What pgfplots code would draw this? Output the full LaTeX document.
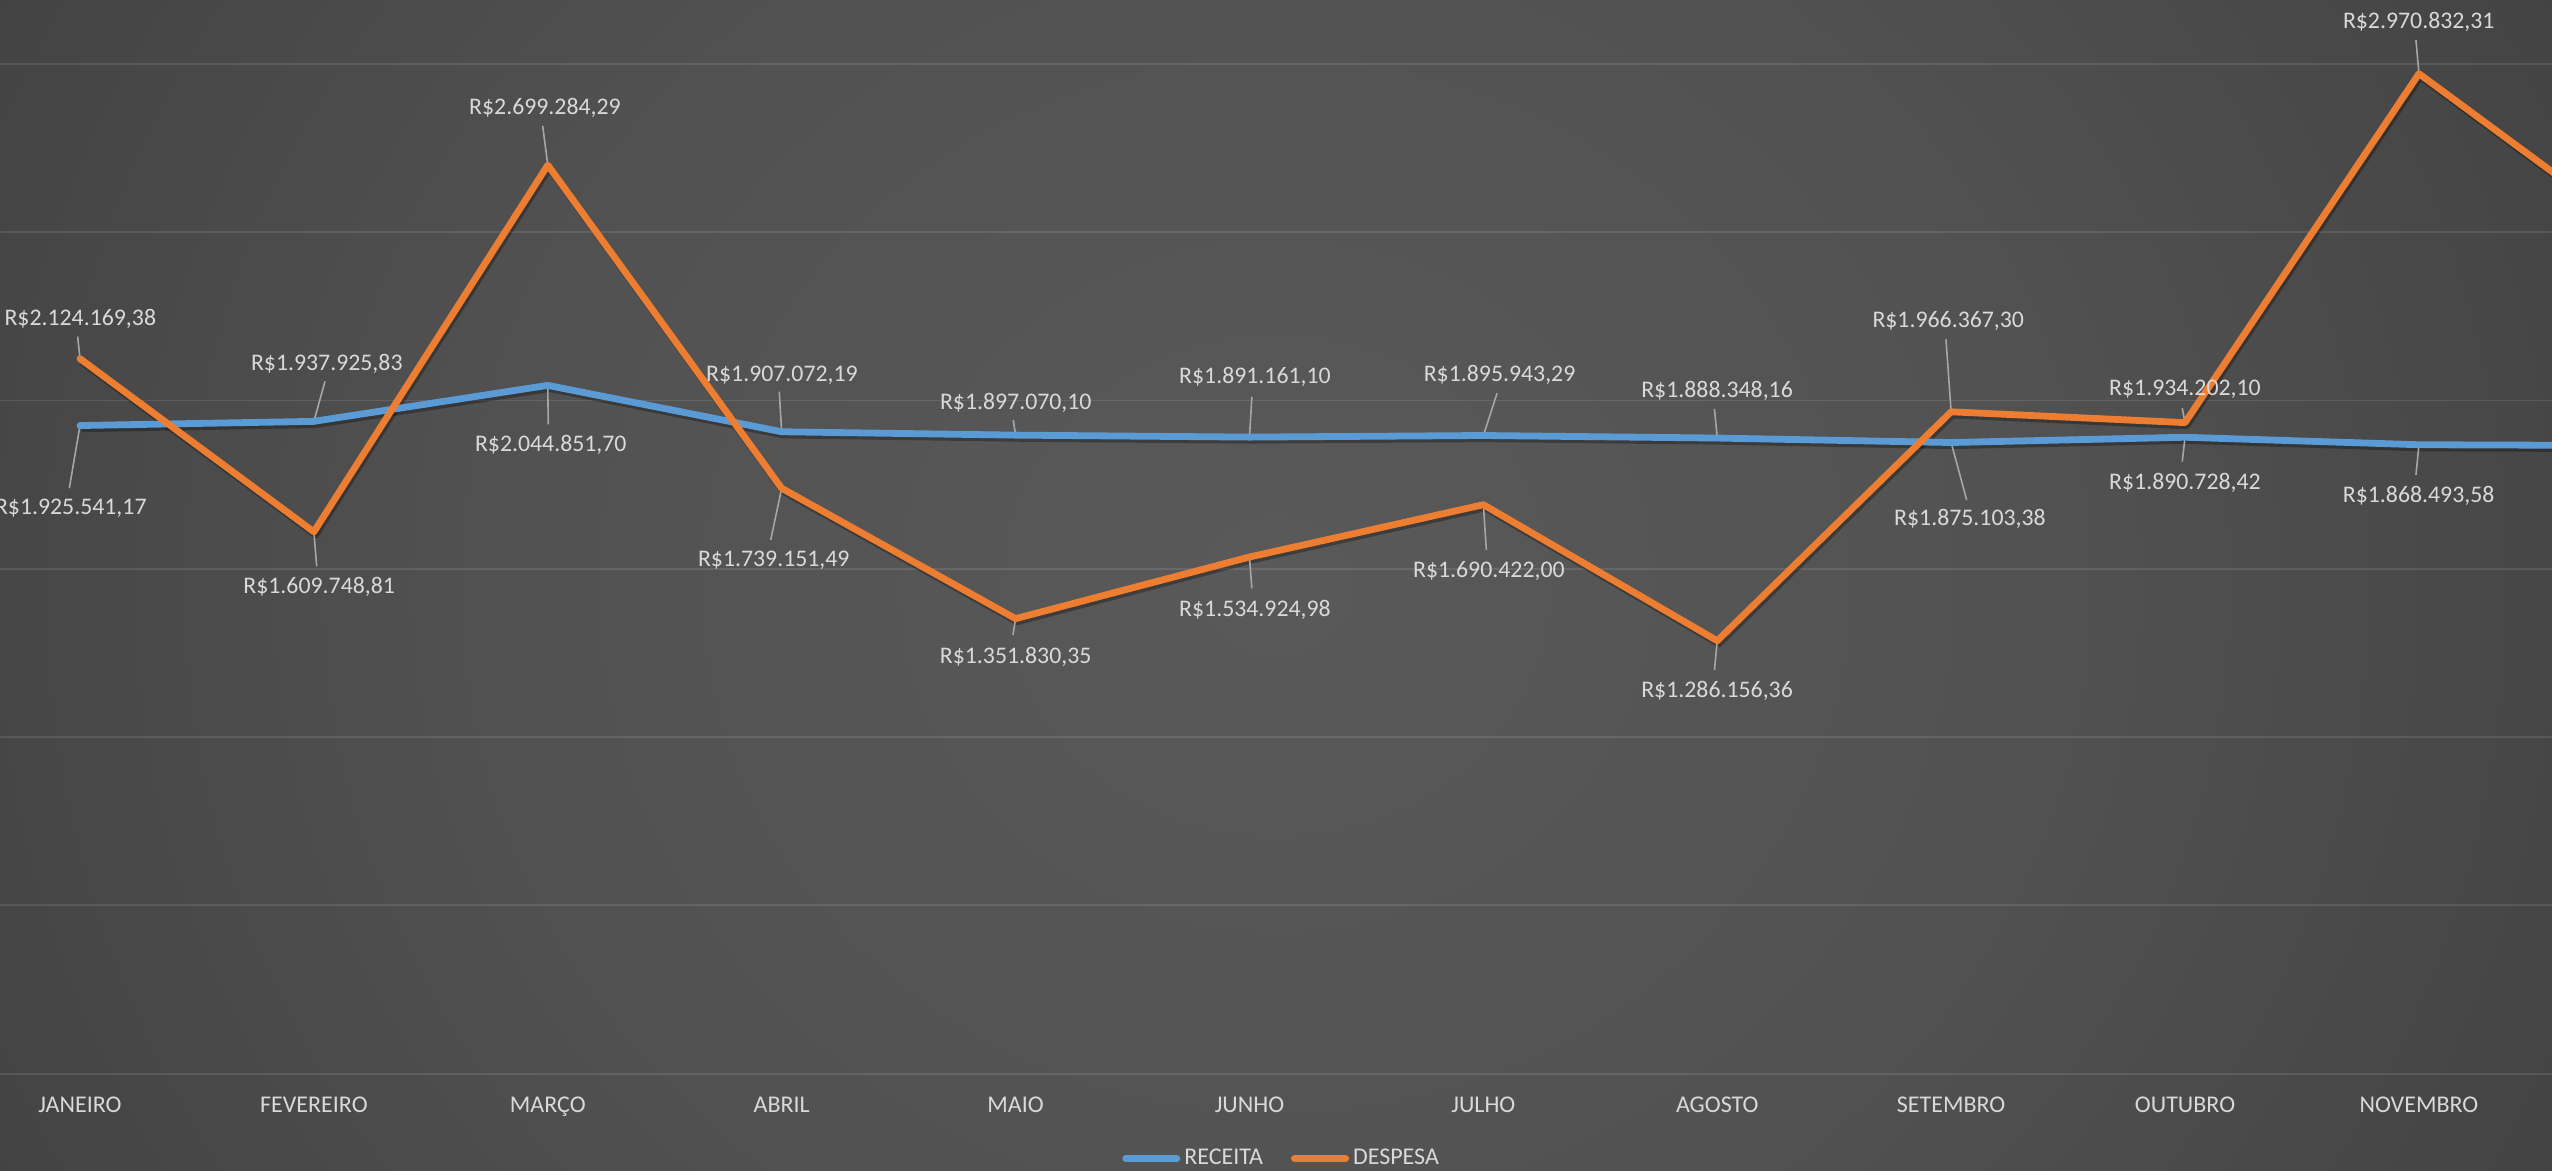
\documentclass[border=0pt]{standalone}
\usepackage{fontspec}
\setmainfont{Carlito}
\newfontfamily\lblfont{Carlito}
\usepackage{pgfplots}
\usepackage{pgfplotstable}
\pgfplotsset{compat=1.18}

\definecolor{receita}{RGB}{91,155,213}
\definecolor{despesa}{RGB}{237,125,49}
\definecolor{txt}{RGB}{217,217,217}
\definecolor{leader}{RGB}{166,166,166}

\pgfdeclareradialshading{bgshade}{\pgfpoint{0bp}{0bp}}{rgb(0bp)=(0.35,0.35,0.35); rgb(15bp)=(0.32,0.32,0.32); rgb(30bp)=(0.255,0.255,0.255); rgb(42bp)=(0.2,0.2,0.2); rgb(52bp)=(0.17,0.17,0.17); rgb(62bp)=(0.15,0.15,0.15); rgb(71bp)=(0.13,0.13,0.13)}

% x = month index, u/v = leader line, dx/dy = label offset (pt)
\pgfplotstableread{
x  y           u       v        dx     dy      lbl
0  1925541.17  -0.0457 -186300  -4.6   -41.35  1.925.541,17
1  1937925.83  0.0475  118800   6.45   28.9    1.937.925,83
2  2044851.70  0.0020  -115600  1.5    -29.8   2.044.851,70
3  1907072.19  -0.0103 119100   0.15   28.4    1.907.072,19
4  1897070.10  -0.0098 45200    0.1    16.25   1.897.070,10
5  1891161.10  0.0103  120000   2.75   30.2    1.891.161,10
6  1895943.29  0.0586  125400   8.1    30.25   1.895.943,29
7  1888348.16  -0.0120 86500    -0.1   23.55   1.888.348,16
8  1875103.38  0.0663  -170800  9.4    -38.4   1.875.103,38
9  1890728.42  -0.0120 -72500   -0.05  -22.7   1.890.728,42
10 1868493.58  -0.0128 -89700   -0.15  -25.45  1.868.493,58
11 1866000.00  -0.0128 -89700   -0.15  -25.45  1.866.000,00
}\receita

\pgfplotstableread{
x  y           u       v        dx     dy      lbl
0  2124169.38  -0.0098 65400    0.15   19.7    2.124.169,38
1  1609748.81  0.0120  -102500  2.65   -27.45  1.609.748,81
2  2699284.29  -0.0218 116200   -1.4   28.45   2.699.284,29
3  1739151.49  -0.0470 -153600  -3.95  -35.85  1.739.151,49
4  1351830.35  -0.0111 -48400   0.05   -19     1.351.830,35
5  1534924.98  0.0103  -93000   2.75   -26.5   1.534.924,98
6  1690422.00  0.0128  -134600  2.75   -33     1.690.422,00
7  1286156.36  -0.0120 -86800   -0.1   -24.95  1.286.156,36
8  1966367.30  -0.0222 215400   -1.45  45.55   1.966.367,30
9  1934202.10  -0.0120 42800    -0.05  16.7    1.934.202,10
10 2970832.31  -0.0128 100100   -0.1   26      2.970.832,31
11 2459000.00  -0.0128 100100   -0.1   26      2.459.000,00
}\despesa

\pgfplotsset{
  datalabels/.style={draw=none, forget plot, mark=none,
    point meta=explicit symbolic,
    nodes near coords={R\$\pgfplotspointmeta},
    visualization depends on={\thisrow{dx}\as\lbdx},
    visualization depends on={\thisrow{dy}\as\lbdy},
    every node near coord/.append style={anchor=center, xshift=\lbdx pt, yshift=\lbdy pt,
      inner sep=0pt, text=txt, font=\lblfont\fontsize{11.9}{14}\selectfont}},
  leaders/.style={forget plot, mark=none, draw=leader, line width=0.8pt,
    quiver={u=\thisrow{u}, v=\thisrow{v}}},
  shadow/.style={forget plot, mark=none, draw=black, opacity=0.3, line width=3.4pt,
    line join=round, xshift=0.8pt, yshift=-1.6pt},
}

\begin{document}
\begin{tikzpicture}
\useasboundingbox (0,-48.65pt) rectangle (1276pt,536.85pt);
\clip (0,-48.65pt) rectangle (1276pt,536.85pt);
\shade[shading=bgshade] (0,-341.4pt) rectangle (1276pt,829.6pt);
\begin{axis}[
  at={(0,0)}, anchor=south west,
  scale only axis, width=1276pt, height=536.85pt,
  xmin=-0.342, xmax=10.569, ymin=0, ymax=3189800,
  axis line style={draw=none},
  major tick length=0pt,
  xtick={0,1,2,3,4,5,6,7,8,9,10,11},
  xticklabels={JANEIRO,FEVEREIRO,MARÇO,ABRIL,MAIO,JUNHO,JULHO,AGOSTO,SETEMBRO,OUTUBRO,NOVEMBRO,DEZEMBRO},
  xticklabel style={font=\fontsize{12}{14}\selectfont, text=txt, anchor=base, inner sep=0pt, yshift=-19.4pt},
  ytick={0,500000,1000000,1500000,2000000,2500000,3000000},
  yticklabels={}, scaled y ticks=false,
  ymajorgrids, grid style={white, opacity=0.1, line width=0.9pt},
  legend columns=-1,
  legend style={at={(0.5026,-0.079)}, anchor=center, draw=none, fill=none,
    font=\fontsize{12}{14}\selectfont, text=txt,
    /tikz/every even column/.append style={column sep=12pt}},
  legend image code/.code={\draw[#1, line cap=round, line width=3.5pt] (0pt,0pt) -- (25.5pt,0pt);},
]
\addplot[shadow] table[x=x, y=y] {\receita};
\addplot[shadow] table[x=x, y=y] {\despesa};
\addplot[leaders] table[x=x, y=y] {\receita};
\addplot[leaders] table[x=x, y=y] {\despesa};
\addplot[receita, line width=3.4pt, line join=round, line cap=round, mark=none] table[x=x, y=y] {\receita};
\addlegendentry{RECEITA}
\addplot[despesa, line width=3.4pt, line join=round, line cap=round, mark=none] table[x=x, y=y] {\despesa};
\addlegendentry{DESPESA}
\addplot[datalabels] table[x=x, y=y, meta=lbl] {\receita};
\addplot[datalabels] table[x=x, y=y, meta=lbl] {\despesa};
\end{axis}
\end{tikzpicture}
\end{document}
